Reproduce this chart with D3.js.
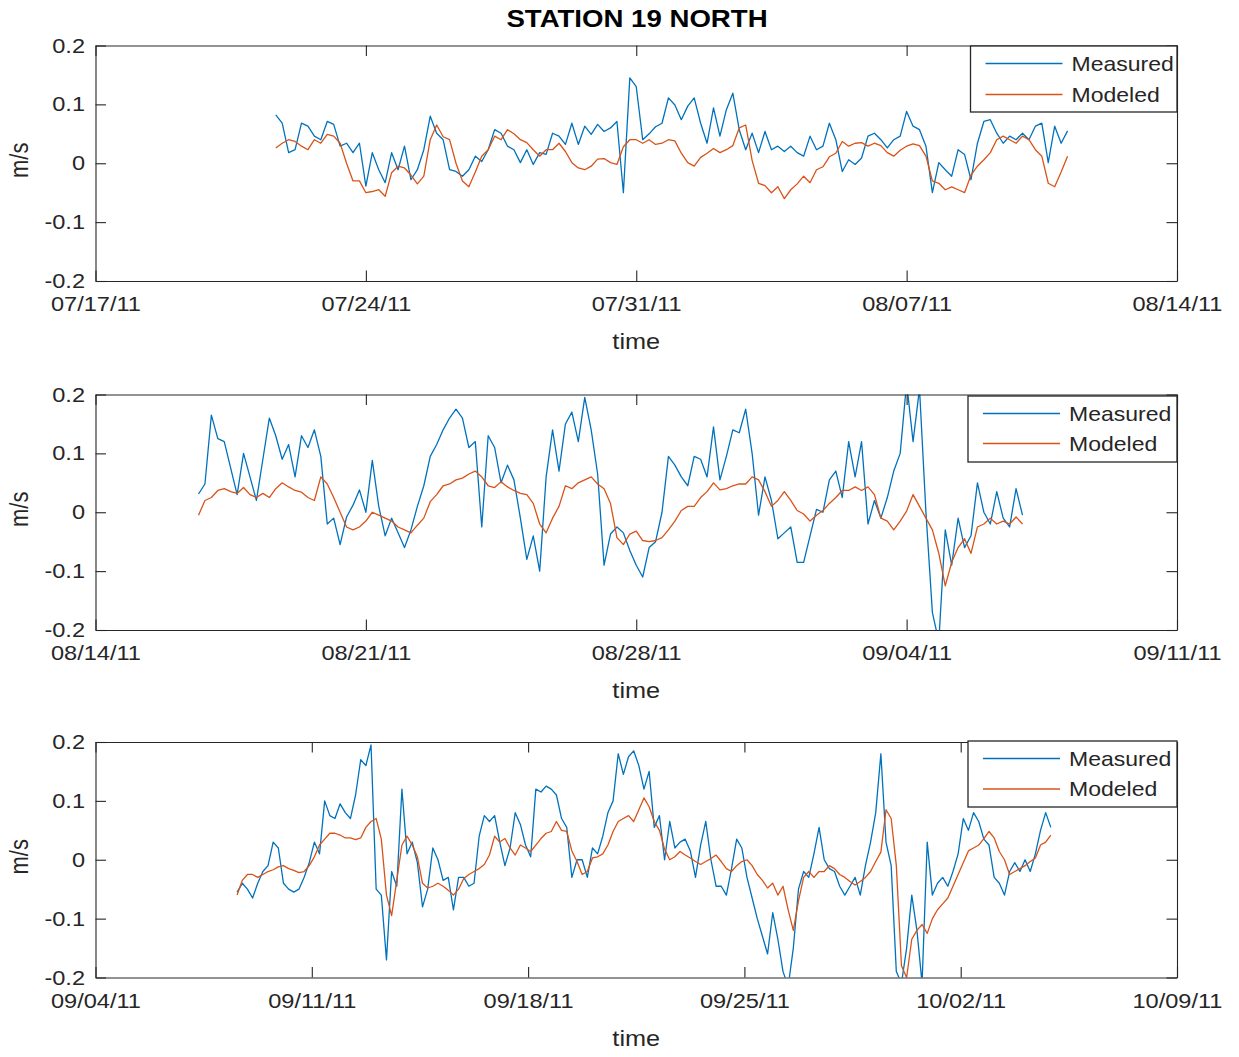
<!DOCTYPE html>
<html><head><meta charset="utf-8">
<script src="https://cdn.jsdelivr.net/npm/d3@7"></script>
<style>html,body{margin:0;padding:0;background:#fff}</style>
</head><body>
<svg id="chart" width="1239" height="1057"></svg>
<script>
// ---------------- DATA ----------------
const titleText = "STATION 19 NORTH";
const seriesNames = ["Measured", "Modeled"];
const xLabel = "time";
const yLabel = "m/s";
const yTicks = [-0.2, -0.1, 0, 0.1, 0.2];
const yTickLabels = ["-0.2", "-0.1", "0", "0.1", "0.2"];
const p1TickLabels = ["07/17/11", "07/24/11", "07/31/11", "08/07/11", "08/14/11"];
const p2TickLabels = ["08/14/11", "08/21/11", "08/28/11", "09/04/11", "09/11/11"];
const p3TickLabels = ["09/04/11", "09/11/11", "09/18/11", "09/25/11", "10/02/11", "10/09/11"];
// first sample time of each panel, samples every 4 hours
const p1Start = "07/21/11 16:00";
const p2Start = "08/16/11 16:00";
const p3Start = "09/08/11 14:00";
const stepHours = 4;

const p1Measured = [0.082,0.068,0.018,0.023,0.068,0.063,0.046,0.040,0.071,0.066,
0.029,0.034,0.018,0.034,-0.039,0.018,-0.011,-0.033,0.018,-0.011,
0.029,-0.028,-0.011,0.023,0.080,0.051,0.040,-0.011,-0.014,-0.022,
-0.011,0.012,0.003,0.023,0.057,0.051,0.029,0.023,0.001,0.023,
-0.002,0.018,0.015,0.051,0.046,0.032,0.068,0.032,0.063,0.049,
0.066,0.054,0.060,0.071,-0.050,0.145,0.130,0.040,0.050,0.062,
0.068,0.111,0.099,0.074,0.097,0.111,0.068,0.034,0.094,0.046,
0.091,0.119,0.057,0.023,0.051,0.018,0.054,0.023,0.029,0.020,
0.029,0.018,0.012,0.046,0.023,0.029,0.068,0.040,-0.014,0.006,
-0.002,0.009,0.046,0.051,0.040,0.026,0.040,0.046,0.088,0.063,
0.057,0.029,-0.050,0.001,-0.011,-0.022,0.023,0.015,-0.028,0.034,
0.071,0.074,0.051,0.034,0.046,0.040,0.051,0.040,0.063,0.068,
0.001,0.063,0.034,0.055];
const p1Modeled = [0.026,0.034,0.040,0.037,0.029,0.023,0.040,0.034,0.049,0.046,
0.034,0.000,-0.030,-0.030,-0.050,-0.048,-0.045,-0.056,-0.016,-0.005,
-0.008,-0.020,-0.035,-0.022,0.040,0.065,0.045,0.040,0.000,-0.030,
-0.040,-0.015,0.012,0.023,0.046,0.040,0.057,0.050,0.040,0.035,
0.023,0.012,0.023,0.023,0.034,0.020,0.001,-0.008,-0.011,-0.005,
0.007,0.008,0.001,-0.002,0.028,0.040,0.040,0.034,0.040,0.032,
0.034,0.040,0.038,0.017,0.001,-0.005,0.010,0.017,0.025,0.018,
0.023,0.030,0.060,0.065,0.005,-0.034,-0.038,-0.050,-0.040,-0.060,
-0.045,-0.035,-0.022,-0.033,-0.011,-0.006,0.011,0.017,0.037,0.029,
0.034,0.035,0.029,0.034,0.030,0.018,0.012,0.022,0.029,0.033,
0.030,0.012,-0.030,-0.034,-0.045,-0.040,-0.045,-0.050,-0.020,-0.005,
0.006,0.018,0.040,0.046,0.040,0.034,0.046,0.040,0.023,0.012,
-0.034,-0.040,-0.015,0.012];

const p2Measured = [0.031,0.048,0.165,0.125,0.120,0.075,0.030,0.100,0.060,0.020,
0.090,0.160,0.130,0.090,0.115,0.060,0.130,0.110,0.140,0.095,
-0.020,-0.010,-0.055,-0.008,0.012,0.038,0.000,0.088,0.010,-0.040,
-0.010,-0.035,-0.060,-0.030,0.010,0.045,0.095,0.115,0.140,0.160,
0.175,0.160,0.110,0.120,-0.025,0.130,0.110,0.050,0.080,0.055,
-0.010,-0.080,-0.040,-0.100,0.060,0.140,0.070,0.150,0.170,0.120,
0.195,0.140,0.065,-0.090,-0.037,-0.025,-0.035,-0.065,-0.090,-0.110,
-0.060,-0.050,0.000,0.095,0.080,0.060,0.045,0.095,0.090,0.060,
0.145,0.055,0.095,0.140,0.135,0.175,0.100,-0.005,0.060,0.020,
-0.045,-0.035,-0.025,-0.085,-0.085,-0.040,0.005,0.000,0.055,0.070,
0.025,0.120,0.060,0.120,-0.020,0.020,-0.010,0.025,0.070,0.100,
0.220,0.120,0.210,0.000,-0.170,-0.220,-0.030,-0.090,-0.010,-0.060,
-0.040,0.050,0.000,-0.020,0.035,-0.010,-0.025,0.040,-0.005];
const p2Modeled = [-0.005,0.020,0.025,0.037,0.040,0.035,0.032,0.042,0.030,0.025,
0.032,0.025,0.040,0.050,0.043,0.037,0.034,0.025,0.020,0.060,
0.048,0.025,0.000,-0.025,-0.030,-0.025,-0.015,0.000,-0.005,-0.010,
-0.015,-0.025,-0.030,-0.035,-0.022,-0.010,0.018,0.030,0.045,0.048,
0.055,0.058,0.065,0.070,0.060,0.045,0.042,0.052,0.043,0.037,
0.032,0.030,0.015,-0.020,-0.035,-0.010,0.010,0.045,0.040,0.050,
0.055,0.060,0.048,0.040,0.015,-0.043,-0.055,-0.037,-0.032,-0.048,
-0.050,-0.048,-0.043,-0.030,-0.015,0.003,0.010,0.010,0.025,0.035,
0.050,0.038,0.040,0.045,0.048,0.048,0.060,0.055,0.035,0.010,
0.020,0.035,0.020,0.003,-0.003,-0.015,-0.005,0.003,0.015,0.025,
0.037,0.037,0.043,0.037,0.043,0.030,-0.010,-0.015,-0.030,-0.015,
0.002,0.030,0.010,-0.010,-0.030,-0.070,-0.125,-0.085,-0.060,-0.045,
-0.070,-0.025,-0.020,-0.010,-0.020,-0.015,-0.020,-0.008,-0.020];

const p3Measured = [-0.055,-0.040,-0.050,-0.065,-0.040,-0.020,-0.010,0.030,0.020,-0.040,
-0.050,-0.055,-0.050,-0.030,-0.005,0.030,0.010,0.100,0.075,0.070,
0.095,0.080,0.070,0.110,0.170,0.160,0.195,-0.050,-0.060,-0.170,
-0.020,-0.045,0.120,0.010,0.030,-0.005,-0.080,-0.050,0.020,0.000,
-0.035,-0.030,-0.085,-0.030,-0.030,-0.045,-0.040,0.040,0.075,0.065,
0.075,0.030,-0.010,0.020,0.080,0.060,0.025,0.005,0.120,0.115,
0.125,0.120,0.110,0.070,0.055,-0.030,0.000,0.000,-0.030,0.020,
0.010,0.040,0.080,0.100,0.180,0.145,0.175,0.185,0.160,0.120,
0.150,0.055,0.075,0.000,0.065,0.020,0.030,0.035,0.015,-0.030,
0.025,0.065,0.000,-0.045,-0.045,-0.060,-0.015,0.035,0.020,-0.030,
-0.065,-0.100,-0.130,-0.160,-0.090,-0.135,-0.190,-0.215,-0.150,-0.050,
-0.020,-0.030,0.010,0.055,0.000,-0.015,-0.020,-0.045,-0.060,-0.045,
-0.030,-0.060,-0.010,0.030,0.080,0.180,0.030,-0.010,-0.190,-0.210,
-0.150,-0.060,-0.120,-0.210,0.030,-0.060,-0.040,-0.030,-0.045,-0.020,
0.010,0.070,0.050,0.080,0.065,0.035,0.025,-0.030,-0.040,-0.060,
-0.020,-0.005,-0.020,0.000,-0.020,0.010,0.050,0.080,0.055];
const p3Modeled = [-0.060,-0.035,-0.025,-0.025,-0.030,-0.025,-0.020,-0.017,-0.012,-0.010,
-0.015,-0.018,-0.022,-0.020,-0.010,0.005,0.025,0.035,0.045,0.045,
0.042,0.037,0.037,0.034,0.037,0.055,0.065,0.070,0.035,-0.060,
-0.095,-0.035,0.025,0.040,0.025,0.005,-0.040,-0.048,-0.045,-0.040,
-0.045,-0.052,-0.060,-0.050,-0.032,-0.025,-0.020,-0.015,-0.008,0.008,
0.040,0.030,0.036,0.020,0.008,0.025,0.020,0.014,0.025,0.036,
0.045,0.048,0.065,0.050,0.048,0.015,-0.003,-0.025,-0.020,0.003,
0.005,0.010,0.025,0.048,0.065,0.070,0.075,0.065,0.085,0.105,
0.090,0.065,0.050,0.018,0.000,0.005,0.014,0.008,0.003,-0.003,
-0.008,-0.003,0.002,0.008,-0.003,-0.015,-0.020,-0.010,-0.003,0.000,
-0.010,-0.025,-0.035,-0.048,-0.040,-0.060,-0.045,-0.085,-0.120,-0.070,
-0.030,-0.020,-0.030,-0.020,-0.020,-0.010,-0.015,-0.025,-0.030,-0.037,
-0.043,-0.037,-0.030,-0.020,-0.003,0.013,0.085,0.070,-0.010,-0.180,
-0.200,-0.135,-0.120,-0.110,-0.125,-0.100,-0.085,-0.075,-0.065,-0.045,
-0.025,-0.005,0.015,0.020,0.025,0.036,0.048,0.037,0.014,0.000,
-0.025,-0.020,-0.015,-0.010,-0.003,0.003,0.025,0.030,0.042];

// ---------------- DRAWING ----------------
const SX = 1.15;           // horizontal glyph stretch of the reference
const FONT = "'Liberation Sans', Arial, Helvetica, sans-serif";
const AXC = "#262626";
const COLORS = ["#0072BD", "#D95319"];
const parseD = d3.timeParse("%m/%d/%y");
const parseDT = d3.timeParse("%m/%d/%y %H:%M");
const fmt = d3.timeFormat("%m/%d/%y");

const svg = d3.select("#chart");
const L = 95.5, R = 1177, H = 235.5, TICK = 10.5;

const panels = [
  {top: 45.5, ticks: p1TickLabels, start: p1Start, meas: p1Measured, mod: p1Modeled, legTop: 46, legLeft: 970.5, legGap: 31},
  {top: 394.5, ticks: p2TickLabels, start: p2Start, meas: p2Measured, mod: p2Modeled, legTop: 396, legLeft: 968, legGap: 30},
  {top: 742.0, ticks: p3TickLabels, start: p3Start, meas: p3Measured, mod: p3Modeled, legTop: 741, legLeft: 968, legGap: 30.5}
];

function stretchText(sel, x, y, rot) {
  sel.attr("transform", `translate(${x},${y}) scale(${SX},1)` + (rot ? ` rotate(${rot})` : ""));
}

svg.append("text").text(titleText)
  .attr("font-family", FONT).attr("font-size", 24).attr("font-weight", "bold")
  .attr("text-anchor", "middle").attr("fill", "#000")
  .call(stretchText, 637, 27);

panels.forEach((p, pi) => {
  const top = p.top, bottom = p.top + H;
  const tickDates = p.ticks.map(parseD);
  const x = d3.scaleTime().domain([tickDates[0], tickDates[tickDates.length - 1]]).range([L, R]);
  const y = d3.scaleLinear().domain([yTicks[0], yTicks[yTicks.length - 1]]).range([bottom, top]);
  const g = svg.append("g");

  const clipId = "clip" + pi;
  svg.append("clipPath").attr("id", clipId).append("rect")
    .attr("x", L).attr("y", top).attr("width", R - L).attr("height", H);

  const start = parseDT(p.start);
  const mk = arr => arr.map((v, i) => ({t: d3.timeHour.offset(start, i * stepHours), v}));
  const line = d3.line().x(d => x(d.t)).y(d => y(d.v));
  const lines = g.append("g").attr("clip-path", `url(#${clipId})`);
  [p.meas, p.mod].forEach((arr, si) => {
    lines.append("path").datum(mk(arr)).attr("d", line)
      .attr("fill", "none").attr("stroke", COLORS[si]).attr("stroke-width", 1.3)
      .attr("stroke-linejoin", "round");
  });

  // axes (inward ticks, MATLAB box)
  const styleAxis = a => {
    a.attr("font-family", FONT).attr("font-size", 20.5).attr("color", AXC);
    a.selectAll("path.domain").attr("stroke-width", 1.1);
    a.selectAll(".tick line").attr("stroke-width", 1.1);
  };
  const ax = g.append("g").attr("transform", `translate(0,${bottom})`)
    .call(d3.axisBottom(x).tickValues(tickDates).tickFormat(fmt).tickSize(-TICK).tickSizeOuter(0).tickPadding(15.5))
    .call(styleAxis);
  ax.selectAll(".tick text").each(function () {
    const t = d3.select(this);
    const yy = +t.attr("y");
    t.attr("y", null).attr("transform", `translate(0,${yy}) scale(${SX},1)`);
  });
  g.append("g").attr("transform", `translate(0,${top})`)
    .call(d3.axisTop(x).tickValues(tickDates).tickFormat("").tickSize(-TICK).tickSizeOuter(0))
    .call(styleAxis);
  const ay = g.append("g").attr("transform", `translate(${L},0)`)
    .call(d3.axisLeft(y).tickValues(yTicks).tickFormat((d, i) => yTickLabels[i]).tickSize(-TICK).tickSizeOuter(0).tickPadding(10.5))
    .call(styleAxis);
  ay.selectAll(".tick text").each(function () {
    const t = d3.select(this);
    const xx = +t.attr("x");
    t.attr("x", null).attr("transform", `translate(${xx},0) scale(${SX},1)`);
  });
  g.append("g").attr("transform", `translate(${R},0)`)
    .call(d3.axisRight(y).tickValues(yTicks).tickFormat("").tickSize(-TICK).tickSizeOuter(0))
    .call(styleAxis);

  // axis labels
  g.append("text").text(xLabel).attr("font-family", FONT).attr("font-size", 22)
    .attr("text-anchor", "middle").attr("fill", AXC)
    .call(stretchText, (L + R) / 2, bottom + 68);
  g.append("text").text(yLabel).attr("font-family", FONT).attr("font-size", 22)
    .attr("text-anchor", "middle").attr("fill", AXC)
    .call(stretchText, 28, (top + bottom) / 2 - 3, -90);

  // legend
  const lg = g.append("g");
  const lw = R - p.legLeft, lh = 66;
  lg.append("rect").attr("x", p.legLeft).attr("y", p.legTop).attr("width", lw).attr("height", lh)
    .attr("fill", "#fff").attr("stroke", AXC).attr("stroke-width", 1.3);
  seriesNames.forEach((name, si) => {
    const ly = p.legTop + 17.5 + si * p.legGap;
    lg.append("line").attr("x1", p.legLeft + 15).attr("x2", p.legLeft + 92)
      .attr("y1", ly).attr("y2", ly).attr("stroke", COLORS[si]).attr("stroke-width", 1.3);
    lg.append("text").text(name).attr("font-family", FONT).attr("font-size", 20)
      .attr("fill", AXC).call(stretchText, p.legLeft + 101, ly + 7.3);
  });
});
</script>
</body></html>
